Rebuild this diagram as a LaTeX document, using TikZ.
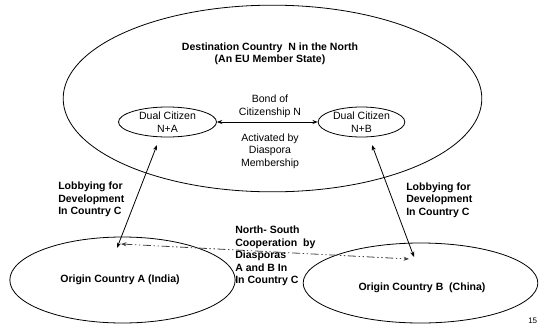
\documentclass[tikz,border=0pt]{standalone}
\usepackage{fontspec}
\setmainfont{Liberation Sans}
\usetikzlibrary{arrows.meta, shapes.geometric, positioning}

\begin{document}
\begin{tikzpicture}[x=0.75pt, y=-0.75pt,
    country/.style={draw, ellipse, line width=0.6pt, inner sep=0pt},
    label/.style={font=\fontsize{7.9}{9.4}\selectfont, align=center, inner sep=0pt},
    boldlabel/.style={font=\fontsize{7.9}{9.4}\selectfont\bfseries, align=left, inner sep=0pt},
    link/.style={line width=0.6pt, {Stealth[length=4pt,width=3pt]}-{Stealth[length=4pt,width=3pt]}},
    coop/.style={link, draw=black!75, dash pattern=on 6pt off 2pt on 1pt off 2pt on 1pt off 2pt}]
  \useasboundingbox (0,0) rectangle (539,325);

  % destination country
  \node[country, minimum width=314pt, minimum height=140pt] (north) at (272.5,98.5) {};
  \node[label, font=\fontsize{7.9}{9.4}\selectfont\bfseries] (northtxt) at (270,54)
    {Destination Country~ N in the North\\(An EU Member State)};

  % dual citizens
  \node[country, label, minimum width=73.5pt, minimum height=22.5pt] (na) at (167.5,122) {Dual Citizen\\N+A};
  \node[country, label, minimum width=65pt, minimum height=22.5pt] (nb) at (361.5,122) {Dual Citizen\\N+B};
  \draw[link] (na.east) -- (nb.west);
  \node[label] (bond) at (270,106.5) {Bond of\\Citizenship N};
  \node[label] (active) at (270,151) {Activated by\\Diaspora\\Membership};

  % origin countries
  \node[country, minimum width=169pt, minimum height=64.5pt] (orga) at (122.5,280) {};
  \node[boldlabel] (orgatxt) at (120,280) {Origin Country A (India)};
  \node[country, minimum width=176pt, minimum height=60pt] (orgb) at (420.5,283) {};
  \node[boldlabel] (orgbtxt) at (422,288) {Origin Country B~ (China)};

  % lobbying
  \coordinate (natip) at (157,145);
  \coordinate (orgatip) at (117,248);
  \coordinate (nbtip) at (372,145);
  \coordinate (orgbtip) at (414,257);
  \draw[link] (orgatip) -- (natip);
  \draw[link] (orgbtip) -- (nbtip);
  \node[boldlabel, anchor=west] (lobbya) at (58,199.5) {Lobbying for\\Development\\In Country C};
  \node[boldlabel, anchor=west] (lobbyb) at (406,200) {Lobbying for\\Development\\In Country C};

  % north-south cooperation
  \coordinate (coopa) at (121,244);
  \coordinate (coopb) at (409,259);
  \draw[coop] (coopa) -- (coopb);
  \node[boldlabel, anchor=west] (coop) at (235,256)
    {North- South\\Cooperation~ by\\Diasporas\\A and B In\\In Country C};

  % page number
  \node[label, font=\fontsize{6}{7}\selectfont, anchor=west] (page) at (528,321) {15};
\end{tikzpicture}
\end{document}
